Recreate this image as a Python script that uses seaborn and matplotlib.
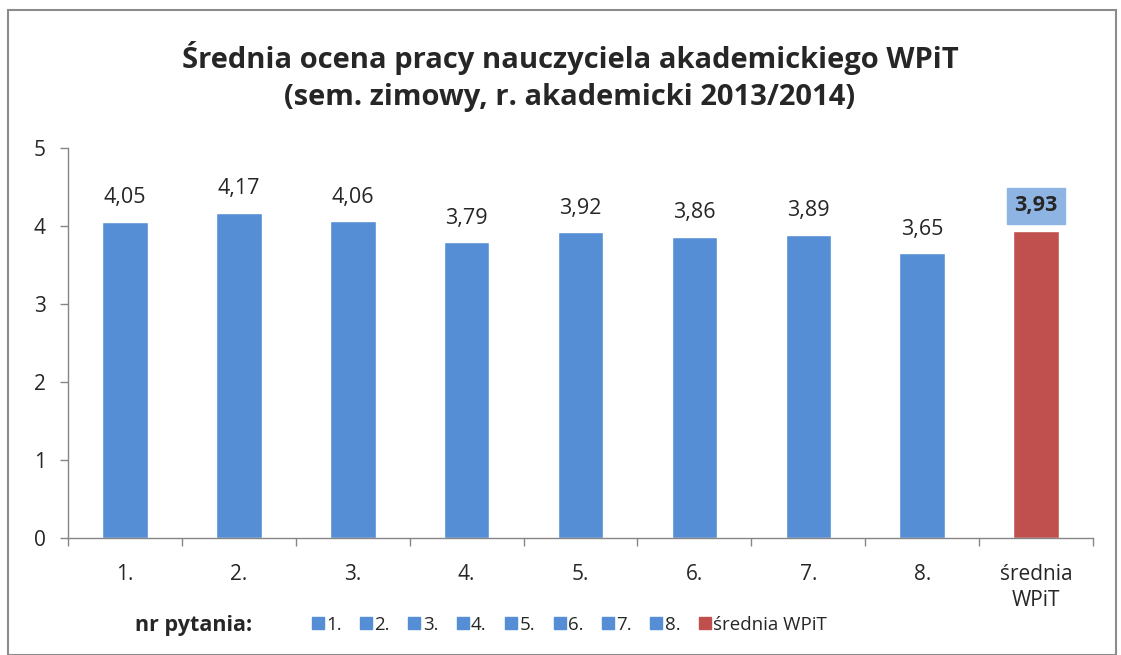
import matplotlib
matplotlib.use("Agg")
import matplotlib.pyplot as plt
import seaborn as sns
import pandas as pd
import numpy as np
from matplotlib.patches import Rectangle
from matplotlib.lines import Line2D

categories = ["1.", "2.", "3.", "4.", "5.", "6.", "7.", "8.", "średnia\nWPiT"]
values = [4.05, 4.17, 4.06, 3.79, 3.92, 3.86, 3.89, 3.65, 3.93]
value_labels = ["4,05", "4,17", "4,06", "3,79", "3,92", "3,86", "3,89", "3,65", "3,93"]
legend_labels = ["1.", "2.", "3.", "4.", "5.", "6.", "7.", "8.", "średnia WPiT"]
yticks = [0, 1, 2, 3, 4, 5]

blue = "#558ED5"
red = "#C0504D"
colors = [blue] * 8 + [red]

sns.set_theme(style="white")
plt.rcParams['font.family'] = ['Open Sans', 'DejaVu Sans']

fig = plt.figure(figsize=(11.21, 6.55), dpi=100)
fig.patches.append(Rectangle((8/1121, 0), (1116-8)/1121, 1 - 10/655, transform=fig.transFigure,
                             fill=False, edgecolor="#8C8C8C", linewidth=1.5))
ax = fig.add_axes([68/1121, 1 - 538/655, (1093-68)/1121, (538-148)/655])

df = pd.DataFrame({"cat": categories, "val": values})
sns.barplot(data=df, x="cat", y="val", hue="cat", palette=colors, width=0.4,
            legend=False, ax=ax, saturation=1)

ax.set_ylim(0, 5)
ax.set_xlim(-0.5, len(categories) - 0.5)
ax.set_yticks(yticks)
ax.set_yticklabels([str(t) for t in yticks], fontsize=15)
ax.set_xlabel("")
ax.set_ylabel("")
ax.tick_params(axis="x", which="major", length=0, labelsize=15, pad=19)
ax.set_xticks(np.arange(-0.5, len(categories), 1), minor=True)
ax.tick_params(axis="x", which="minor", length=6, color="#868686", width=1, bottom=True)
ax.tick_params(axis="y", length=6, color="#868686", width=1, left=True, labelsize=15, pad=10)
for s in ["top", "right"]:
    ax.spines[s].set_visible(False)
for s in ["left", "bottom"]:
    ax.spines[s].set_color("#868686")
    ax.spines[s].set_linewidth(1)
for lab in ax.get_xticklabels():
    lab.set_linespacing(1.3)
    lab.set_verticalalignment("top")

for i, (v, t) in enumerate(zip(values, value_labels)):
    if i == len(values) - 1:
        ax.text(i, v + 0.33, t, ha="center", va="center", fontsize=15.5, fontweight="bold",
                bbox=dict(boxstyle="square,pad=0.35", facecolor="#8DB4E2", edgecolor="#8DB4E2"))
    else:
        ax.text(i, v + 0.31, t, ha="center", va="center", fontsize=15.5)

fig.text(570/1121, 1 - 58/655, "Średnia ocena pracy nauczyciela akademickiego WPiT",
         ha="center", va="center", fontsize=21, fontweight="bold")
fig.text(570/1121, 1 - 98/655, "(sem. zimowy, r. akademicki 2013/2014)",
         ha="center", va="center", fontsize=21, fontweight="bold")

fig.text(135/1121, 1 - 625/655, "nr pytania:", ha="left", va="center", fontsize=15.5, fontweight="bold")
handles = [Line2D([0], [0], marker="s", linestyle="", markersize=8, markerfacecolor=c,
                  markeredgecolor=c) for c in colors]
fig.legend(handles, legend_labels, loc="center left", bbox_to_anchor=(311/1121, 1 - 625/655),
           ncol=9, frameon=False, fontsize=13.5, handletextpad=0.1, columnspacing=0.95,
           handlelength=0.7, borderpad=0, borderaxespad=0)

fig.savefig("out.png", dpi=100)
